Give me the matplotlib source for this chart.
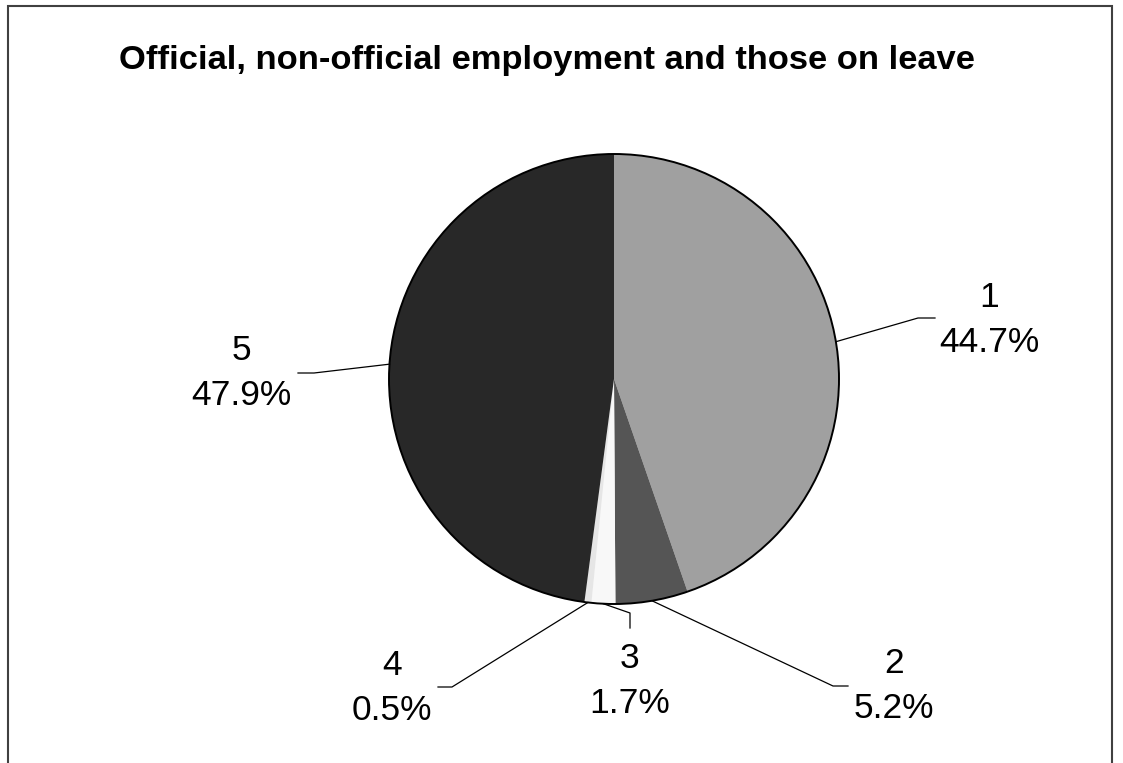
import numpy as np
import matplotlib
matplotlib.use("Agg")
import matplotlib.pyplot as plt
from matplotlib.patches import Circle, Rectangle

plt.rcParams["font.family"] = ["Liberation Sans", "DejaVu Sans"]

# Shares of the population by employment status
categories = ["1", "2", "3", "4", "5"]
shares = [44.7, 5.2, 1.7, 0.5, 47.9]
slice_colors = ["#a0a0a0", "#555555", "#f8f8f8", "#e6e6e6", "#282828"]
title = "Official, non-official employment and those on leave"

W, H = 1123, 763
cx, cy, radius = 614, 379, 225

# label block centre and leader-line knee/end, in pixel coords (y down)
label_pos = [(989, 320), (894, 686), (630, 681), (392, 688), (241, 373)]
leaders = [
    [(918, 318), (935, 318)],
    [(833, 686), (848, 686)],
    [(630, 613), (630, 628)],
    [(452, 687), (438, 687)],
    [(314, 373), (298, 373)],
]


def flip(x, y):
    return x, H - y


fig = plt.figure(figsize=(W / 100, H / 100), dpi=100)
ax = fig.add_axes([0, 0, 1, 1])

wedges, _ = ax.pie(shares, colors=slice_colors, startangle=90, counterclock=False,
                   center=flip(cx, cy), radius=radius, frame=True,
                   wedgeprops=dict(linewidth=0))
ax.add_patch(Circle(flip(cx, cy), radius, fill=False, edgecolor="black", linewidth=1.4))

for w, cat, val, pos, knee in zip(wedges, categories, shares, label_pos, leaders):
    mid = np.deg2rad((w.theta1 + w.theta2) / 2)
    x0 = cx + radius * np.cos(mid)
    y0 = cy - radius * np.sin(mid)
    pts = [(x0, y0)] + knee
    xs, ys = zip(*[flip(px, py) for px, py in pts])
    ax.plot(xs, ys, color="black", linewidth=0.9)
    ax.text(*flip(*pos), f"{cat}\n{val:.1f}%", ha="center", va="center",
            fontsize=25.5, linespacing=1.43)

ax.text(*flip(W / 2 - 15, 60), title, ha="center", va="center",
        fontsize=24.8, fontweight="bold")

ax.set_xlim(0, W)
ax.set_ylim(0, H)
ax.set_aspect("equal")
ax.axis("off")

# chart area border (runs past the bottom of the image)
fig.patches.append(Rectangle((8 / W, -0.05), (1112 - 8) / W, (H - 6) / H + 0.05,
                             transform=fig.transFigure, fill=False,
                             edgecolor="#404040", linewidth=1.5))

fig.savefig("out.png", dpi=100)
